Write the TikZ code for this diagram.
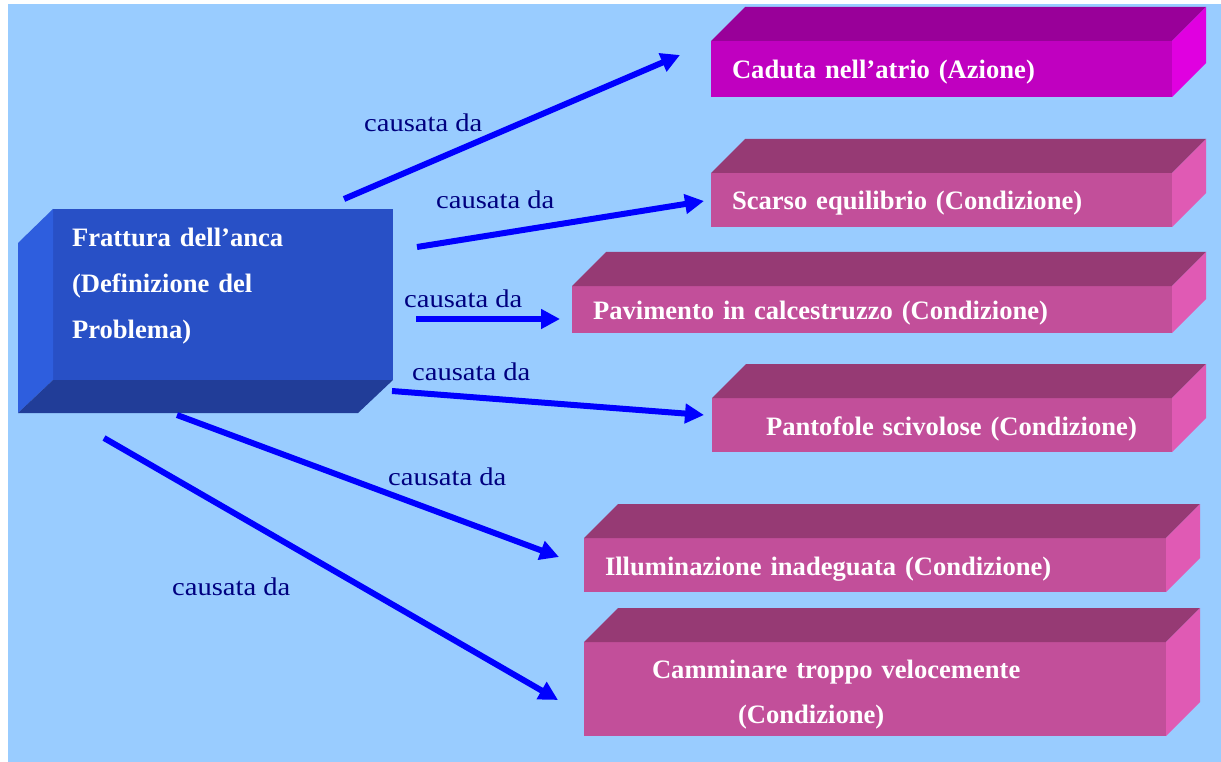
\documentclass[tikz,border=0pt]{standalone}
\usepackage{fontspec}
\setmainfont{Liberation Serif}
\newfontfamily\causefont[FakeStretch=1.12]{Liberation Serif}
\usetikzlibrary{backgrounds,calc,arrows.meta}

\definecolor{sky}{HTML}{99CCFF}
\definecolor{problemfront}{HTML}{2850C6}
\definecolor{problemside}{HTML}{2E5EDE}
\definecolor{problembottom}{HTML}{213D98}
\definecolor{actionfront}{HTML}{C000C0}
\definecolor{actiontop}{HTML}{990099}
\definecolor{actionside}{HTML}{E000E0}
\definecolor{pinkfront}{HTML}{C24F9A}
\definecolor{pinktop}{HTML}{963A74}
\definecolor{pinkside}{HTML}{E05AB4}
\definecolor{arrowblue}{HTML}{0000FF}
\definecolor{navy}{HTML}{000080}

\begin{document}
\begin{tikzpicture}[x=1pt,y=-1pt]
    % `front' is the face of a slab that carries its text.
    % `condition' is used by the pink slabs, `causes' by the blue arrows.
    \tikzstyle{front} = [anchor=north west,outer sep=0pt,inner xsep=21pt,inner ysep=0pt,
      text height=26pt,text depth=6pt,
      align=left,text=white,font=\fontsize{26.6}{45}\selectfont\bfseries]
    \tikzstyle{condition} = [front,fill=pinkfront]
    \tikzstyle{causes} = [draw=arrowblue,line width=6pt,-{Triangle[length=19pt,width=19pt]}]
    \tikzstyle{cause label} = [anchor=base west,inner sep=0pt,text=navy,
      font=\causefont\fontsize{25.5}{25.5}\selectfont]
    \useasboundingbox (0,0) rectangle (1221,762);
    %
    \node[front,fill=problemfront,inner xsep=19pt,text width=302pt,minimum height=171pt,
      text height=,text depth=,
      font=\fontsize{26.6}{46}\selectfont\bfseries] (frattura) at (53,209)
      {Frattura dell’anca\\(Definizione del\\Problema)\rule[-23pt]{0pt}{23pt}};
    \node[front,fill=actionfront,text width=419pt,minimum height=56pt] (caduta) at (711,41)
      {Caduta nell’atrio (Azione)};
    \node[condition,text width=419pt,minimum height=54pt] (equilibrio) at (711,173)
      {Scarso equilibrio (Condizione)};
    \node[condition,text width=558pt,minimum height=47pt] (pavimento) at (572,286)
      {Pavimento in calcestruzzo (Condizione)};
    \node[condition,text width=418pt,minimum height=54pt] (pantofole) at (712,398)
      {\hspace*{33pt}Pantofole scivolose (Condizione)};
    \node[condition,text width=540pt,minimum height=54pt] (illuminazione) at (584,538)
      {Illuminazione inadeguata (Condizione)};
    \node[condition,text width=540pt,minimum height=94pt,text height=,text depth=] (camminare) at (584,642)
      {\hspace*{47pt}\rule{0pt}{29pt}Camminare troppo velocemente\\\hspace*{133pt}(Condizione)};
    %
    % Draw the hidden faces of the slabs.
    \fill[problemside] (frattura.north west) -- ++(-35,34) -- ($(frattura.south west)+(-35,33)$)
      -- (frattura.south west) -- cycle;
    \fill[problembottom] (frattura.south west) -- ++(-35,33) -- ($(frattura.south east)+(-35,33)$)
      -- (frattura.south east) -- cycle;
    \fill[actiontop] (caduta.north west) -- ++(34,-34) -- ($(caduta.north east)+(34,-34)$)
      -- (caduta.north east) -- cycle;
    \fill[actionside] (caduta.north east) -- ++(34,-34) -- ($(caduta.south east)+(34,-34)$)
      -- (caduta.south east) -- cycle;
    \foreach \n in {equilibrio,pavimento,pantofole,illuminazione,camminare} {
      \fill[pinktop] (\n.north west) -- ++(34,-34) -- ($(\n.north east)+(34,-34)$)
        -- (\n.north east) -- cycle;
      \fill[pinkside] (\n.north east) -- ++(34,-34) -- ($(\n.south east)+(34,-34)$)
        -- (\n.south east) -- cycle;
    }
    %
    % Draw arrows and their labels.
    \coordinate (s1) at (344,199); \coordinate (t1) at (680,55);
    \coordinate (s2) at (417,247); \coordinate (t2) at (704,201);
    \coordinate (s3) at (416,319); \coordinate (t3) at (560,319);
    \coordinate (s4) at (392,391); \coordinate (t4) at (704,415);
    \coordinate (s5) at (177,415); \coordinate (t5) at (559,557);
    \coordinate (s6) at (104,438); \coordinate (t6) at (558,700);
    \foreach \i in {1,...,6}
      \draw[causes] (s\i) -- (t\i);
    \node[cause label] (by1) at (364,132) {causata da};
    \node[cause label] (by2) at (436,209) {causata da};
    \node[cause label] (by3) at (404,307) {causata da};
    \node[cause label] (by4) at (412,380) {causata da};
    \node[cause label] (by5) at (388,485) {causata da};
    \node[cause label] (by6) at (172,595) {causata da};
    %
    \begin{pgfonlayer}{background}
      % Draw background box.
      \fill[sky] (8,4) rectangle (1221,762);
    \end{pgfonlayer}
\end{tikzpicture}
\end{document}
